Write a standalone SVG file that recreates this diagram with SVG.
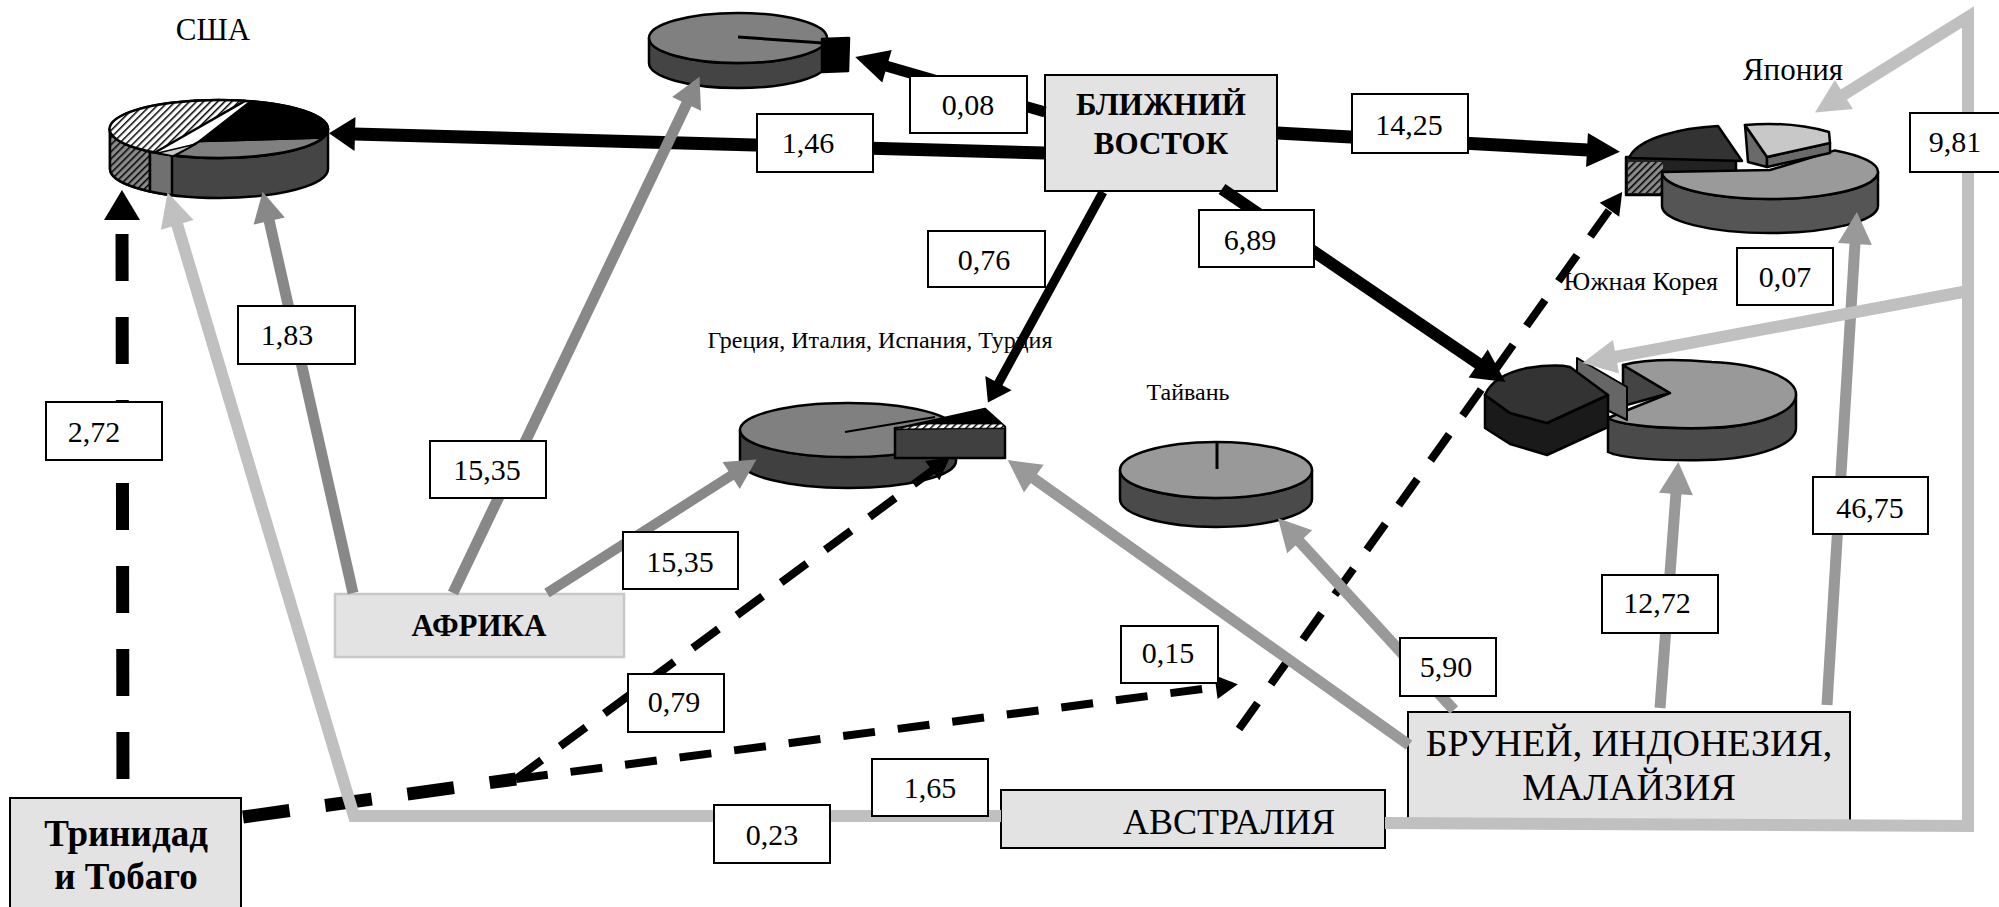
<svg xmlns="http://www.w3.org/2000/svg" width="1999" height="907" viewBox="0 0 1999 907">
<defs>
  <style>
    text { font-family: "Liberation Serif", "Times New Roman", serif; fill: #000; }
    .cap { text-anchor: middle; }
    .lbl rect { fill: #fff; stroke: #000; stroke-width: 2; }
    .lbl text { font-size: 30px; text-anchor: middle; }
    .node rect { fill: #e3e3e3; stroke: #000; stroke-width: 2; }
    .node text { text-anchor: middle; }
    .pie { stroke: #000; stroke-width: 2.5; stroke-linejoin: round; }
    .c { fill: none; stroke-linejoin: miter; stroke-linecap: butt; }
    .bk { stroke: #000; }
    .g1 { stroke: #888; }
    .g2 { stroke: #999; }
    .lt { stroke: #c0c0c0; }
  </style>
  <pattern id="hatchW" width="5" height="5" patternUnits="userSpaceOnUse" patternTransform="rotate(45)">
    <rect width="5" height="5" fill="#fff"/><rect width="1.5" height="5" fill="#000"/>
  </pattern>
  <pattern id="hatchG" width="5" height="5" patternUnits="userSpaceOnUse" patternTransform="rotate(45)">
    <rect width="5" height="5" fill="#8a8a8a"/><rect width="1.5" height="5" fill="#000"/>
  </pattern>
  <marker id="mBk1" markerUnits="userSpaceOnUse" orient="auto" refX="1" refY="0" markerWidth="40" markerHeight="40" overflow="visible"><path d="M0,-17 L26,0 L0,17 Z" fill="#000"/></marker>
  <marker id="mBk2" markerUnits="userSpaceOnUse" orient="auto" refX="1" refY="0" markerWidth="40" markerHeight="40" overflow="visible"><path d="M0,-17 L33,0 L0,17 Z" fill="#000"/></marker>
  <marker id="mBk3" markerUnits="userSpaceOnUse" orient="auto" refX="1" refY="0" markerWidth="40" markerHeight="40" overflow="visible"><path d="M0,-15 L22,0 L0,15 Z" fill="#000"/></marker>
  <marker id="mDk1" markerUnits="userSpaceOnUse" orient="auto" refX="1" refY="0" markerWidth="40" markerHeight="40" overflow="visible"><path d="M0,-18 L30,0 L0,18 Z" fill="#000"/></marker>
  <marker id="mDk2" markerUnits="userSpaceOnUse" orient="auto" refX="1" refY="0" markerWidth="40" markerHeight="40" overflow="visible"><path d="M0,-12 L22,0 L0,12 Z" fill="#000"/></marker>
  <marker id="mG1" markerUnits="userSpaceOnUse" orient="auto" refX="1" refY="0" markerWidth="40" markerHeight="40" overflow="visible"><path d="M0,-16 L30,0 L0,16 Z" fill="#888"/></marker>
  <marker id="mG2" markerUnits="userSpaceOnUse" orient="auto" refX="1" refY="0" markerWidth="40" markerHeight="40" overflow="visible"><path d="M0,-17 L32,0 L0,17 Z" fill="#999"/></marker>
  <marker id="mLt" markerUnits="userSpaceOnUse" orient="auto" refX="1" refY="0" markerWidth="40" markerHeight="40" overflow="visible"><path d="M0,-17 L34,0 L0,17 Z" fill="#c0c0c0"/></marker>
</defs>

<rect width="1999" height="907" fill="#fff"/>

<!-- pie captions -->
<g id="captions">
  <text class="cap" x="213" y="40" font-size="31">США</text>
  <text class="cap" x="1793" y="80" font-size="31">Япония</text>
  <text x="1718" y="290" font-size="26" text-anchor="end">Южная Корея</text>
  <text class="cap" x="880" y="348" font-size="24">Греция, Италия, Испания, Турция</text>
  <text class="cap" x="1188" y="400" font-size="24">Тайвань</text>
</g>

<!-- USA pie -->
<g id="pie-usa" class="pie">
  <path d="M110,129 L110,169 A109,29 0 0 0 328,169 L328,129 A109,29 0 0 1 110,129 Z" fill="#454545"/>
  <path d="M110,129 L110,169 A109,29 0 0 0 150,191.5 L150,151.5 A109,29 0 0 1 110,129 Z" fill="url(#hatchG)"/>
  <path d="M150,151.5 L150,191.5 A109,29 0 0 0 172,195.2 L172,155.2 A109,29 0 0 1 150,151.5 Z" fill="#707070"/>
  <ellipse cx="219" cy="129" rx="109" ry="29" fill="#fff"/>
  <path d="M200,141 L323.2,137.5 A109,29 0 0 1 175,155.5 Z" fill="#808080"/>
  <path d="M158,153 L196,144 L173,156 Z" fill="#c8c8c8" stroke-width="1.5"/>
  <path d="M155,152.5 A109,29 0 0 1 245,100.8 Z" fill="url(#hatchW)"/>
  <path d="M251,101.3 A109,29 0 0 1 323.2,137.5 L200,141 Z" fill="#000"/>
</g>

<!-- unnamed pie at the top -->
<g id="pie-top" class="pie">
  <path d="M649,38 L649,63 A89,25 0 0 0 827,63 L827,38 A89,25 0 0 1 649,38 Z" fill="#444"/>
  <ellipse cx="738" cy="38" rx="89" ry="25" fill="#808080"/>
  <path d="M738,37 L823,43" fill="none" stroke-width="3"/>
  <path d="M822,39 L849,38 L848,71 L822,72 Z" fill="#000"/>
</g>

<!-- Greece / Italy / Spain / Turkey pie -->
<g id="pie-greece" class="pie">
  <path d="M740,430 L740,461 A108,27 0 0 0 956,461 L956,430 A108,27 0 0 1 740,430 Z" fill="#404040"/>
  <ellipse cx="848" cy="430" rx="108" ry="27" fill="#808080"/>
  <rect x="895" y="428" width="110" height="30" fill="#404040"/>
  <path d="M845,432 L935,417" fill="none" stroke-width="2"/>
  <path d="M895,429 L985,409 L1005,427 Z" fill="#000"/>
  <path d="M925,424 L1002,424 L1005,428 L895,429 Z" fill="url(#hatchW)" stroke-width="0.8"/>
</g>

<!-- Taiwan pie -->
<g id="pie-taiwan" class="pie">
  <path d="M1120,470 L1120,499 A96,28 0 0 0 1312,499 L1312,470 A96,28 0 0 1 1120,470 Z" fill="#4a4a4a"/>
  <ellipse cx="1216" cy="470" rx="96" ry="28" fill="#999"/>
  <path d="M1217,442 L1217,469" fill="none" stroke-width="3"/>
</g>

<!-- South Korea pie -->
<g id="pie-korea" class="pie">
  <path d="M1623,365 L1670,393 L1623,406 Z" fill="#444"/>
  <path d="M1608,418 L1608,452 C1620,458 1660,461 1705,460 C1760,459 1796,444 1796,428 L1796,395 C1795,412 1760,427 1705,428 C1660,429 1620,425 1608,418 Z" fill="#4a4a4a"/>
  <path d="M1670,393 L1623,365 C1650,358 1690,360 1712,362 C1760,364 1797,378 1796,395 C1795,412 1760,427 1705,428 C1660,429 1620,425 1608,418 Z" fill="#999"/>
  <path d="M1577,358 L1627,387 L1627,420 L1577,395 Z" fill="#666" stroke-width="2"/>
  <path d="M1485,395 L1510,413 L1547,423 L1608,395 L1608,427 L1547,455 L1510,444 L1485,428 Z" fill="#1a1a1a"/>
  <path d="M1485,395 C1490,383 1503,373 1527,368 C1540,366 1557,364 1570,367 L1608,395 L1547,423 L1510,413 Z" fill="#333"/>
</g>

<!-- Japan pie -->
<g id="pie-japan" class="pie">
  <rect x="1626" y="157" width="110" height="38" fill="#222"/>
  <rect x="1628" y="162" width="35" height="31" fill="url(#hatchG)" stroke="none"/>
  <path d="M1630,156 C1640,138 1680,128 1718,126 L1742,161 L1630,158 Z" fill="#333"/>
  <path d="M1662,172 L1662,206 A108,27 0 0 0 1878,206 L1878,172 A108,27 0 0 1 1662,172 Z" fill="#555"/>
  <path d="M1770,170 L1835,150.4 A108,27 0 1 1 1662,172 Z" fill="#9a9a9a"/>
  <path d="M1745,125 L1767,157 L1767,167 L1748,162 Z" fill="#6a6a6a"/>
  <path d="M1767,157 L1830,143 L1830,153 L1767,167 Z" fill="#6a6a6a"/>
  <path d="M1745,125 Q1790,121 1829,132 L1830,143 L1767,157 Z" fill="#c8c8c8"/>
</g>

<!-- region boxes -->
<g id="node-middle-east" class="node">
  <rect x="1045" y="75" width="232" height="116"/>
  <text x="1161" y="115" font-size="31" font-weight="bold">БЛИЖНИЙ</text>
  <text x="1161" y="154" font-size="31" font-weight="bold">ВОСТОК</text>
</g>
<g id="node-africa" class="node">
  <rect x="335" y="594" width="289" height="63" style="stroke:#c8c8c8;stroke-width:2.5"/>
  <text x="479" y="636" font-size="31" font-weight="bold">АФРИКА</text>
</g>
<g id="node-trinidad" class="node">
  <rect x="10" y="798" width="231" height="130"/>
  <text x="126" y="846" font-size="37" font-weight="bold">Тринидад</text>
  <text x="126" y="889" font-size="37" font-weight="bold">и Тобаго</text>
</g>
<g id="node-brunei" class="node">
  <rect x="1408" y="712" width="442" height="110"/>
  <text x="1629" y="756" font-size="38">БРУНЕЙ, ИНДОНЕЗИЯ,</text>
  <text x="1629" y="800" font-size="38">МАЛАЙЗИЯ</text>
</g>
<g id="node-australia" class="node">
  <rect x="1001" y="790" width="384" height="58"/>
  <text x="1229" y="834" font-size="36">АВСТРАЛИЯ</text>
</g>

<!-- connectors -->
<g id="connectors">
  <!-- from the Middle East -->
  <path class="c bk" d="M1045,153 L354,134" stroke-width="13" marker-end="url(#mBk1)"/>
  <path class="c bk" d="M1045,112 L886,66" stroke-width="11" marker-end="url(#mBk2)"/>
  <path class="c bk" d="M1277,133 L1588,150" stroke-width="13" marker-end="url(#mBk2)"/>
  <path class="c bk" d="M1222,189 L1479,364" stroke-width="12" marker-end="url(#mBk2)"/>
  <path class="c bk" d="M1103,192 L998,384" stroke-width="9" marker-end="url(#mBk3)"/>
  <!-- from Trinidad and Tobago -->
  <path class="c bk" d="M123,798 L122,219" stroke-width="13" stroke-dasharray="47 36" stroke-dashoffset="64" marker-end="url(#mDk1)"/>
  <path class="c bk" d="M243,817 L516,779" stroke-width="13" stroke-dasharray="47 36"/>
  <path class="c bk" d="M516,779 L933,470" stroke-width="8" stroke-dasharray="32 23" marker-end="url(#mDk2)"/>
  <path class="c bk" d="M516,779 L1217,687" stroke-width="8" stroke-dasharray="32 23" marker-end="url(#mDk2)"/>
  <path class="c bk" d="M1239,729 L1610,209" stroke-width="8" stroke-dasharray="32 23" marker-end="url(#mDk2)"/>
  <!-- from Africa -->
  <path class="c g1" d="M353,593 L269,220" stroke-width="11" marker-end="url(#mG1)"/>
  <path class="c g1" d="M453,593 L687,103" stroke-width="11" marker-end="url(#mG1)"/>
  <path class="c g1" d="M547,593 L732,475" stroke-width="10" marker-end="url(#mG1)"/>
  <!-- from Brunei, Indonesia, Malaysia -->
  <path class="c g2" d="M1409,745 L1033,478" stroke-width="11" marker-end="url(#mG2)"/>
  <path class="c g2" d="M1454,710 L1299,541" stroke-width="11" marker-end="url(#mG2)"/>
  <path class="c g2" d="M1660,708 L1676,493" stroke-width="11" marker-end="url(#mG2)"/>
  <path class="c g2" d="M1827,705 L1855,243" stroke-width="11" marker-end="url(#mG2)"/>
  <!-- from Australia -->
  <path class="c lt" d="M1001,816 L354,816 L177,224" stroke-width="12" marker-end="url(#mLt)"/>
  <path class="c lt" d="M1385,823 L1968,826 L1968,17 L1843,95" stroke-width="12" marker-end="url(#mLt)"/>
  <path class="c lt" d="M1968,291 L1615,357" stroke-width="12" marker-end="url(#mLt)"/>
</g>

<!-- flow values -->
<g id="values" class="lbl">
  <rect x="910" y="76" width="117" height="57"/><text x="968" y="115">0,08</text>
  <rect x="757" y="114" width="116" height="58"/><text x="808" y="153">1,46</text>
  <rect x="1352" y="94" width="116" height="59"/><text x="1409" y="135">14,25</text>
  <rect x="1199" y="210" width="115" height="57"/><text x="1250" y="250">6,89</text>
  <rect x="928" y="231" width="117" height="56"/><text x="984" y="270">0,76</text>
  <rect x="1910" y="113" width="92" height="59"/><text x="1955" y="152">9,81</text>
  <rect x="1737" y="248" width="96" height="57"/><text x="1785" y="287">0,07</text>
  <rect x="238" y="306" width="117" height="58"/><text x="287" y="345">1,83</text>
  <rect x="46" y="402" width="116" height="58"/><text x="94" y="442">2,72</text>
  <rect x="430" y="441" width="116" height="57"/><text x="487" y="480">15,35</text>
  <rect x="623" y="532" width="115" height="57"/><text x="680" y="572">15,35</text>
  <rect x="628" y="674" width="96" height="58"/><text x="674" y="712">0,79</text>
  <rect x="1121" y="626" width="97" height="57"/><text x="1168" y="663">0,15</text>
  <rect x="872" y="759" width="116" height="57"/><text x="930" y="798">1,65</text>
  <rect x="714" y="805" width="116" height="58"/><text x="772" y="845">0,23</text>
  <rect x="1400" y="638" width="96" height="58"/><text x="1446" y="677">5,90</text>
  <rect x="1602" y="575" width="116" height="58"/><text x="1657" y="613">12,72</text>
  <rect x="1813" y="477" width="115" height="57"/><text x="1870" y="518">46,75</text>
</g>
</svg>
